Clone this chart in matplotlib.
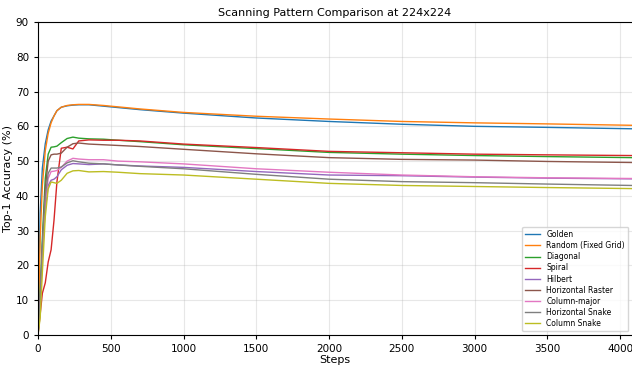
import matplotlib
matplotlib.use('Agg')
import matplotlib.pyplot as plt

steps = [0, 15, 30, 50, 70, 90, 110, 130, 160, 200, 240, 280, 350, 450, 550, 700,
         1000, 1500, 2000, 2500, 3000, 3500, 4080]

golden = [0, 35, 48, 55, 59, 61.5, 63, 64.5, 65.5, 65.9, 66.1, 66.2, 66.2, 65.8, 65.4, 64.8,
          63.8, 62.4, 61.4, 60.6, 60.0, 59.7, 59.3]
random_grid = [0, 28, 43, 53, 58, 61, 63, 64.5, 65.5, 66.0, 66.2, 66.3, 66.3, 66.0, 65.6, 65.0,
               64.0, 62.9, 62.1, 61.4, 61.0, 60.7, 60.3]
diagonal = [0, 12, 28, 45, 52, 54, 54.1, 54.3, 55.3, 56.5, 56.9, 56.6, 56.4, 56.3, 56.0, 55.6,
            54.7, 53.6, 52.5, 52.0, 51.6, 51.3, 51.0]
spiral = [0, 6, 12, 15, 21, 24.5, 33, 44, 53.7, 54.0, 53.5, 55.8, 56.1, 56.0, 56.0, 55.8,
          54.9, 53.9, 52.8, 52.4, 52.0, 51.8, 51.6]
hilbert = [0, 9, 24, 36, 43, 44.5, 44.8, 45.5, 47.5, 48.8, 49.3, 49.2, 49.0, 49.2, 48.9, 48.6,
           48.2, 47.0, 46.0, 45.8, 45.4, 45.1, 44.9]
h_raster = [0, 10, 25, 42, 50, 51.8, 52.0, 52.0, 52.3, 54.0, 55.0, 55.2, 54.9, 54.7, 54.5, 54.2,
            53.4, 52.1, 51.0, 50.5, 50.3, 49.9, 49.6]
col_major = [0, 8, 22, 38, 45, 47, 47.1, 47.3, 48.2, 50.0, 50.8, 50.6, 50.4, 50.4, 50.0, 49.8,
             49.2, 47.8, 46.8, 46.0, 45.5, 45.2, 45.0]
h_snake = [0, 10, 26, 40, 46.5, 48, 48, 48.0, 48.3, 49.5, 50.1, 49.8, 49.4, 49.2, 48.9, 48.5,
           47.8, 46.2, 44.8, 44.1, 43.8, 43.4, 43.0]
col_snake = [0, 5, 18, 34, 42, 44, 43.8, 43.6, 44.5, 46.5, 47.2, 47.3, 46.9, 47.0, 46.8, 46.4,
             46.0, 44.8, 43.6, 43.0, 42.7, 42.4, 42.1]

series = [
    ("Golden", golden),
    ("Random (Fixed Grid)", random_grid),
    ("Diagonal", diagonal),
    ("Spiral", spiral),
    ("Hilbert", hilbert),
    ("Horizontal Raster", h_raster),
    ("Column-major", col_major),
    ("Horizontal Snake", h_snake),
    ("Column Snake", col_snake),
]

fig = plt.figure(figsize=(6.32, 3.65), dpi=100)
ax = fig.add_axes([38 / 632, 30 / 365, 1 - 38 / 632, 313 / 365])

for name, vals in series:
    ax.plot(steps, vals, label=name, linewidth=1.0)

ax.set_xlim(0, 4082)
ax.set_ylim(0, 90)
ax.set_xticks(range(0, 4001, 500))
ax.set_yticks(range(0, 91, 10))
ax.tick_params(labelsize=7.5, length=3)
ax.grid(True, alpha=0.3)
ax.spines['right'].set_visible(False)
ax.set_xlabel("Steps", fontsize=8, labelpad=1)
ax.set_ylabel("Top-1 Accuracy (%)", fontsize=8, labelpad=2)
ax.set_title("Scanning Pattern Comparison at 224x224", fontsize=8, pad=4)
ax.legend(loc='lower right', fontsize=5.5, borderaxespad=0.5, labelspacing=0.28)

fig.savefig("out.png", dpi=100)
